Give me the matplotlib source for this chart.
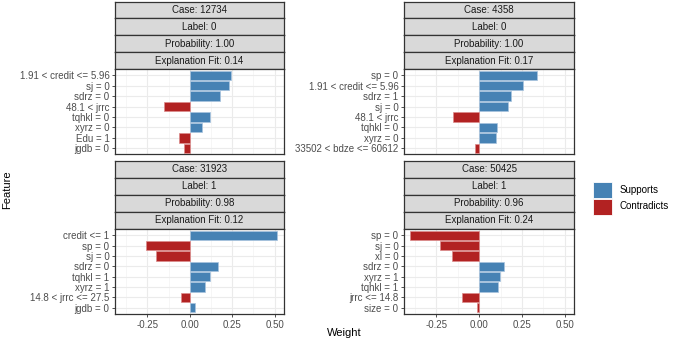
import matplotlib
matplotlib.use('Agg')
import matplotlib.pyplot as plt
from matplotlib.patches import Rectangle

plt.rcParams['font.family'] = ['Liberation Sans', 'DejaVu Sans']

# LIME explanations for four cases
cases = ['12734', '4358', '31923', '50425']
labels = ['0', '0', '1', '1']
probs = [1.00, 1.00, 0.98, 0.96]
fits = [0.14, 0.17, 0.12, 0.24]

features_12734 = ['1.91 < credit <= 5.96', 'sj = 0', 'sdrz = 0', '48.1 < jrrc',
                  'tqhkl = 0', 'xyrz = 0', 'Edu = 1', 'jgdb = 0']
weights_12734 = [0.242, 0.234, 0.176, -0.152, 0.121, 0.070, -0.061, -0.035]

features_4358 = ['sp = 0', '1.91 < credit <= 5.96', 'sdrz = 1', 'sj = 0', '48.1 < jrrc',
                 'tqhkl = 0', 'xyrz = 0', '33502 < bdze <= 60612']
weights_4358 = [0.339, 0.255, 0.186, 0.166, -0.154, 0.107, 0.097, -0.026]

features_31923 = ['credit <= 1', 'sp = 0', 'sj = 0', 'sdrz = 0', 'tqhkl = 1',
                  'xyrz = 1', '14.8 < jrrc <= 27.5', 'jgdb = 0']
weights_31923 = [0.515, -0.26, -0.20, 0.164, 0.117, 0.088, -0.049, 0.029]

features_50425 = ['sp = 0', 'sj = 0', 'xl = 0', 'sdrz = 0', 'xyrz = 1',
                  'tqhkl = 1', 'jrrc <= 14.8', 'size = 0']
weights_50425 = [-0.406, -0.23, -0.16, 0.148, 0.12, 0.11, -0.10, -0.01]

all_features = [features_12734, features_4358, features_31923, features_50425]
all_weights = [weights_12734, weights_4358, weights_31923, weights_50425]

x_ticks = [-0.25, 0.0, 0.25, 0.50]
x_minor = [-0.375, -0.125, 0.125, 0.375]

SUP = '#4682B4'
CON = '#B22222'
SUP_EDGE = '#A9C4DE'
CON_EDGE = '#DC8C8C'
W, H = 677, 340

fig = plt.figure(figsize=(W / 100, H / 100), dpi=100)

def fbox(x0, y0, x1, y1):
    # pixel box (top-left origin) -> figure rect
    return [x0 / W, 1 - y1 / H, (x1 - x0) / W, (y1 - y0) / H]

panel_x = [(115, 284), (404, 574), (115, 284), (404, 574)]
panel_y = [(1.5, 69, 154.5), (1.5, 69, 154.5), (160.5, 229, 314), (160.5, 229, 314)]

for i in range(4):
    x0, x1 = panel_x[i]
    ys, yp, yb = panel_y[i]
    # strips
    texts = [f'Case: {cases[i]}', f'Label: {labels[i]}',
             f'Probability: {probs[i]:.2f}', f'Explanation Fit: {fits[i]:.2f}']
    sh = (yp - ys) / 4
    for k, t in enumerate(texts):
        sax = fig.add_axes(fbox(x0, ys + k * sh, x1, ys + (k + 1) * sh))
        sax.set_facecolor('#D9D9D9')
        sax.set_xticks([])
        sax.set_yticks([])
        for s in sax.spines.values():
            s.set_color('#333333')
            s.set_linewidth(0.9)
        sax.text(0.5, 0.5, t, ha='center', va='center', fontsize=7, color='#1A1A1A',
                 transform=sax.transAxes)

    ax = fig.add_axes(fbox(x0, yp, x1, yb))
    feats = all_features[i]
    ws = all_weights[i]
    n = len(feats)
    ypos = list(range(n - 1, -1, -1))
    colors = [SUP if w >= 0 else CON for w in ws]
    edges = [SUP_EDGE if w >= 0 else CON_EDGE for w in ws]
    ax.barh(ypos, ws, height=0.9, color=colors, edgecolor=edges, linewidth=0.5, zorder=3)
    ax.set_xlim(-0.44, 0.555)
    ax.set_ylim(-0.6, n - 1 + 0.6)
    ax.set_yticks(ypos)
    ax.set_yticklabels(feats, fontsize=7, color='#4D4D4D')
    ax.set_xticks(x_ticks)
    ax.set_xticks(x_minor, minor=True)
    ax.grid(True, which='major', color='#EBEBEB', linewidth=0.8, zorder=0)
    ax.grid(True, which='minor', axis='x', color='#F3F3F3', linewidth=0.5, zorder=0)
    ax.set_axisbelow(True)
    ax.tick_params(axis='y', length=2.5, width=0.6, color='#333333', pad=1.5)
    ax.tick_params(axis='x', which='minor', length=0)
    if i >= 2:
        ax.set_xticklabels(['-0.25', '0.00', '0.25', '0.50'], fontsize=7, color='#4D4D4D')
        ax.tick_params(axis='x', length=2.5, width=0.6, color='#333333', pad=1.5)
    else:
        ax.tick_params(axis='x', length=0, labelbottom=False)
    for s in ax.spines.values():
        s.set_color('#333333')
        s.set_linewidth(0.9)

fig.text(344 / W, 1 - 333 / H, 'Weight', ha='center', va='center', fontsize=8, color='black')
fig.text(7 / W, 1 - 190 / H, 'Feature', ha='center', va='center', rotation=90,
         fontsize=8, color='black')

# legend
leg_items = [('Supports', SUP), ('Contradicts', CON)]
for k, (name, col) in enumerate(leg_items):
    y0 = 182 + k * 16.5
    fig.patches.append(Rectangle((593 / W, 1 - (y0 + 16) / H), 19 / W, 16 / H,
                                 transform=fig.transFigure, facecolor=col,
                                 edgecolor='white', linewidth=0.6))
    fig.text(620 / W, 1 - (y0 + 8) / H, name, ha='left', va='center', fontsize=7,
             color='black')

fig.savefig('out.png', dpi=100, facecolor='white')
